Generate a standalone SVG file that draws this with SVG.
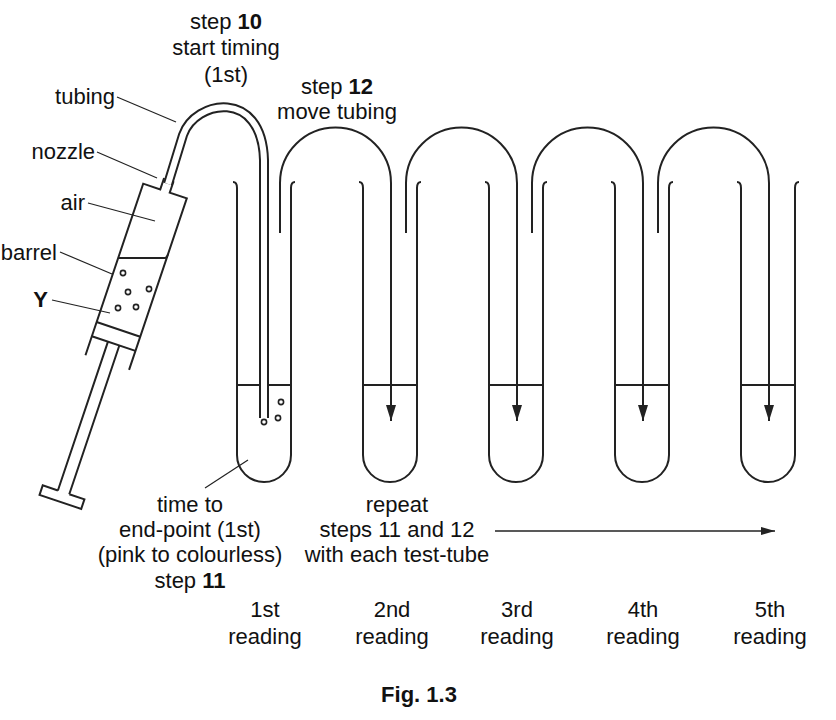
<svg xmlns="http://www.w3.org/2000/svg" width="836" height="720" viewBox="0 0 836 720">
<style>
.l{fill:none;stroke:#222;stroke-width:2}
.t{font-family:"Liberation Sans",Arial,sans-serif;font-size:22px;fill:#111;text-anchor:middle}
.s{font-family:"Liberation Sans",Arial,sans-serif;font-size:22px;fill:#111;text-anchor:end}
.ld{stroke:#222;stroke-width:1.2}
.b{fill:#fff;stroke:#222;stroke-width:1.6}
</style>
<defs>
<marker id="ar" markerWidth="16" markerHeight="10" refX="16" refY="5" orient="auto" markerUnits="userSpaceOnUse" viewBox="0 0 16 10"><path d="M0,0 L16,5 L0,10 Z" fill="#222"/></marker>
<marker id="ah" markerWidth="14" markerHeight="8" refX="14" refY="4" orient="auto" markerUnits="userSpaceOnUse" viewBox="0 0 14 8"><path d="M0,0 L14,4 L0,8 Z" fill="#222"/></marker>
<path id="tube" d="M-4,0 Q0,0 0,6 V273 A27,27 0 0 0 54,273 V6 Q54,0 58,0"/>
</defs>
<rect width="836" height="720" fill="#fff"/>
<g id="tubes" class="l">
<use href="#tube" x="237" y="182"/>
<use href="#tube" x="363" y="182"/>
<use href="#tube" x="489" y="182"/>
<use href="#tube" x="615" y="182"/>
<use href="#tube" x="741" y="182"/>
<path d="M237,385H291M363,385H417M489,385H543M615,385H669M741,385H795"/>
</g>
<g id="bubbles" class="b">
<circle cx="264" cy="422" r="2.6"/><circle cx="278" cy="418" r="2.6"/><circle cx="281" cy="402" r="2.6"/>
</g>
<g id="connectors" class="l">
<path d="M280,233 V183 A55.5,55.5 0 0 1 391,183 V421" marker-end="url(#ar)"/>
<path d="M406,233 V183 A55.5,55.5 0 0 1 517,183 V421" marker-end="url(#ar)"/>
<path d="M532,233 V183 A55.5,55.5 0 0 1 643,183 V421" marker-end="url(#ar)"/>
<path d="M658,233 V183 A55.5,55.5 0 0 1 769,183 V421" marker-end="url(#ar)"/>
<path d="M495,531 H775" stroke-width="1.4" marker-end="url(#ah)"/>
</g>
<g id="syringe" class="l">
<g transform="translate(165,191) rotate(18.6)">
<path d="M-5,-12 V0 H-23 V181 M5,-12 V0 H23 V181"/>
<path d="M-23,146 H23 M-23,161 H23"/>
<path d="M-6,161 V318 M6,161 V318 M-6,318 H-22 V328 H22 V318 H6"/>
</g>
<path d="M118,258 H165 Q167,258 168,254" stroke-width="1.8"/>
<g class="b"><circle cx="123" cy="273" r="2.6"/><circle cx="128" cy="292" r="2.6"/><circle cx="149" cy="289" r="2.6"/><circle cx="118" cy="308" r="2.6"/><circle cx="136" cy="307" r="2.6"/></g>
</g>
<g id="tubing">
<path d="M168,184 L183,135 C195,100 262,88 264,160 V418" fill="none" stroke="#222" stroke-width="10"/>
<path d="M168,184 L183,135 C195,100 262,88 264,160 V418" fill="none" stroke="#fff" stroke-width="6"/>
</g>
<g id="leaders" class="ld">
<line x1="117" y1="97" x2="176" y2="122"/>
<line x1="97" y1="152" x2="157" y2="178"/>
<line x1="88" y1="203" x2="155" y2="221"/>
<line x1="60" y1="252" x2="112" y2="274"/>
<line x1="52" y1="300" x2="110" y2="313"/>
<line x1="248" y1="460" x2="205" y2="488"/>
</g>
<g id="labels">
<text class="s" x="115" y="104">tubing</text>
<text class="s" x="95" y="159">nozzle</text>
<text class="s" x="85" y="210">air</text>
<text class="s" x="57" y="260">barrel</text>
<text class="s" x="48" y="307" font-weight="bold">Y</text>
<text class="t" x="226" y="29">step <tspan font-weight="bold">10</tspan></text>
<text class="t" x="226" y="55">start timing</text>
<text class="t" x="226" y="82">(1st)</text>
<text class="t" x="337" y="94">step <tspan font-weight="bold">12</tspan></text>
<text class="t" x="337" y="119">move tubing</text>
<text class="t" x="190" y="512">time to</text>
<text class="t" x="190" y="537">end-point (1st)</text>
<text class="t" x="190" y="562">(pink to colourless)</text>
<text class="t" x="190" y="588">step <tspan font-weight="bold">11</tspan></text>
<text class="t" x="397" y="512">repeat</text>
<text class="t" x="397" y="537">steps 11 and 12</text>
<text class="t" x="397" y="562">with each test-tube</text>
<text class="t" x="265" y="617">1st</text><text class="t" x="265" y="644">reading</text>
<text class="t" x="392" y="617">2nd</text><text class="t" x="392" y="644">reading</text>
<text class="t" x="517" y="617">3rd</text><text class="t" x="517" y="644">reading</text>
<text class="t" x="643" y="617">4th</text><text class="t" x="643" y="644">reading</text>
<text class="t" x="770" y="617">5th</text><text class="t" x="770" y="644">reading</text>
<text class="t" x="419" y="702" font-weight="bold">Fig. 1.3</text>
</g>
</svg>
